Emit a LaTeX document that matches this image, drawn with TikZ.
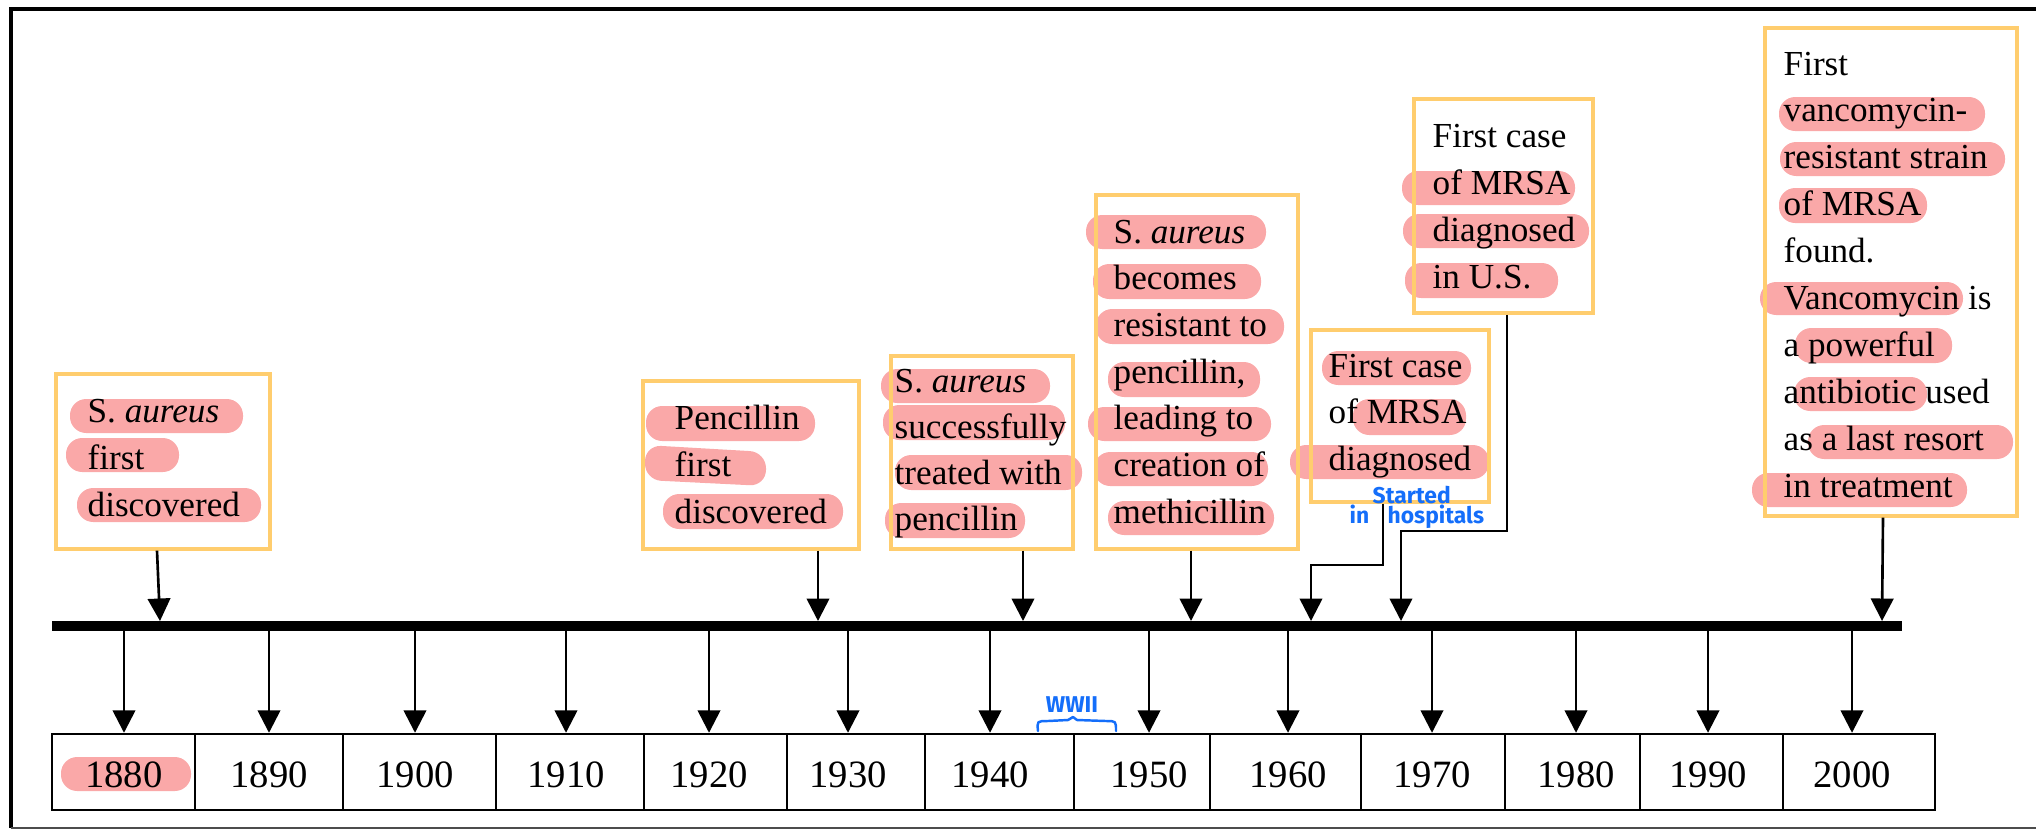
\documentclass[tikz,border=0pt]{standalone}
\usepackage{fontspec}
\setmainfont{Liberation Serif}
\newfontfamily\handfont{Fira Sans}
\usetikzlibrary{arrows.meta, fit}

\definecolor{boxline}{RGB}{255,205,110}
\definecolor{hlpink}{RGB}{250,168,168}
\definecolor{penblue}{RGB}{20,110,250}

\tikzset{
  event/.style={draw=boxline, line width=0.9pt, inner sep=0pt},
  evline/.style={anchor=base west, inner sep=0pt, font=\fontsize{10}{12}\selectfont},
  hl/.style={fill=hlpink, rounded corners=4.6pt},
  cell/.style={draw, line width=0.7pt, inner sep=0pt},
  yeartxt/.style={anchor=base, inner sep=0pt, font=\fontsize{11}{13}\selectfont},
  tick/.style={-{Triangle[width=6.4pt,length=6.4pt]}, line width=0.75pt},
  bar/.style={line width=2.6pt},
  pen/.style={penblue, line width=0.7pt, line cap=round, line join=round},
  note/.style={text=penblue, inner sep=0pt, anchor=base west, font=\handfont\bfseries\fontsize{6.5}{7}\selectfont},
}

\begin{document}
\begin{tikzpicture}[x=0.1mm, y=-0.1mm]
  \useasboundingbox (0,0) rectangle (2036,830);
  % frame
  \draw[line width=1.2pt] (2036,9) -- (11,9) -- (11,828);
  \draw[line width=0.8pt, black!70] (11,828) -- (2036,828);

  % highlighter marks
  \foreach \xa/\ya/\xb/\yb in {70/399/243/433, 66/438/179/472, 77/488/261/522,
      646/406/815/441, 663/494/843/529,
      881/369/1050/403, 883/405/1065/440, 895/455/1082/490, 885/503/1025/538,
      1086/215/1266/249, 1093/264/1261/299, 1096/309/1284/344, 1108/362/1260/397,
      1088/407/1271/441, 1094/452/1268/486, 1108/501/1274/535,
      1322/351/1471/385, 1353/399/1466/435, 1290/445/1489/479,
      1402/171/1575/205, 1403/214/1589/248, 1405/263/1558/298,
      1779/97/1985/131, 1780/142/2005/176, 1779/188/1927/223, 1760/282/1963/315,
      1795/328/1952/363, 1794/377/1927/411, 1808/425/2013/459, 1752/473/1967/507,
      61/757/191/791}
    \fill[hl] (\xa,\ya) rectangle (\xb,\yb);
  \fill[hl] (645,445) -- (766,452) -- (766,486) -- (645,480) -- cycle;

  % event boxes
  \node[event, fit={(56,374) (270,549)}] (E1) {};
  \node[event, fit={(643,381) (859,549)}] (E2) {};
  \node[event, fit={(891,356) (1073,549)}] (E3) {};
  \node[event, fit={(1096,195) (1298,549)}] (E4) {};
  \node[event, fit={(1311,330) (1489,502)}] (E5) {};
  \node[event, fit={(1414,99) (1593,313)}] (E6) {};
  \node[event, fit={(1765,28) (2017,516)}] (E7) {};

  % event texts
  \foreach \t [count=\i from 0] in {S. \textit{aureus}, first, discovered}
    \node[evline] (E1-\i) at (87, {422+47*\i}) {\t};
  \foreach \t [count=\i from 0] in {Pencillin, first, discovered}
    \node[evline] (E2-\i) at (674, {429+47*\i}) {\t};
  \foreach \t [count=\i from 0] in {S. \textit{aureus}, successfully, treated with, pencillin}
    \node[evline] (E3-\i) at (894, {392+46.3*\i}) {\t};
  \foreach \t [count=\i from 0] in {S. \textit{aureus}, becomes, resistant to, {pencillin,},
      leading to, creation of, methicillin}
    \node[evline] (E4-\i) at (1113, {243+46.7*\i}) {\t};
  \foreach \t [count=\i from 0] in {First case, of MRSA, diagnosed}
    \node[evline] (E5-\i) at (1328, {377+46.5*\i}) {\t};
  \foreach \t [count=\i from 0] in {First case, of MRSA, diagnosed, in U.S.}
    \node[evline] (E6-\i) at (1432, {147+47*\i}) {\t};
  \foreach \t [count=\i from 0] in {First, vancomycin-, resistant strain, of MRSA, found.,
      Vancomycin is, a powerful, antibiotic used, as a last resort, in treatment}
    \node[evline] (E7-\i) at (1783, {75+46.9*\i}) {\t};

  % time bar
  \coordinate (barL) at (52,626);
  \coordinate (barR) at (1902,626);
  \coordinate (barB) at (0,630);
  \draw[bar] (barL) -- (barR);

  \coordinate (H1) at (160,621);
  \coordinate (H2) at (818,621);
  \coordinate (H3) at (1023,621);
  \coordinate (H4) at (1191,621);
  \coordinate (H5) at (1311,621);
  \coordinate (H6) at (1401,621);
  \coordinate (H7) at (1882,621);

  \draw[tick] (E1.south -| 157,0) -- (H1);
  \draw[tick] (E2.south -| 818,0) -- (H2);
  \draw[tick] (E3.south -| 1023,0) -- (H3);
  \draw[tick] (E4.south -| 1191,0) -- (H4);
  \draw[tick] (E5.south -| 1383,0) -- (1383,565) -| (H5);
  \draw[tick] (E6.south -| 1507,0) -- (1507,531) -| (H6);
  \draw[tick] (E7.south -| 1883,0) -- (H7);

  % decades
  \foreach \yr/\l/\r/\ax in {1880/52/195/124, 1890/195/343/269, 1900/343/496/415,
      1910/496/644/566, 1920/644/787/709, 1930/787/925/848, 1940/925/1074/990,
      1950/1074/1210/1149, 1960/1210/1361/1288, 1970/1361/1505/1432,
      1980/1505/1640/1576, 1990/1640/1783/1708, 2000/1783/1935/1852} {
    \node[cell, fit={(\l,734) (\r,810)}] (Y\yr) {};
    \node[yeartxt] (T\yr) at (\ax,787) {\yr};
    \draw[tick] (\ax,0 |- barB) -- (\ax,0 |- Y\yr.north);
  }

  % pen notes
  \node[note, anchor=center] (wwii) at (1072,705) {WWII};
  \draw[pen] (1038,731) .. controls (1037,721) .. (1048,721) -- (1068,720)
    -- (1073,717) -- (1077,720) -- (1106,721) .. controls (1116,721) .. (1116,731);
  \node[note] (started) at (1372,503) {Started};
  \node[note] (in) at (1349,523) {in};
  \node[note] (hosp) at (1387,523) {hospitals};
\end{tikzpicture}
\end{document}
